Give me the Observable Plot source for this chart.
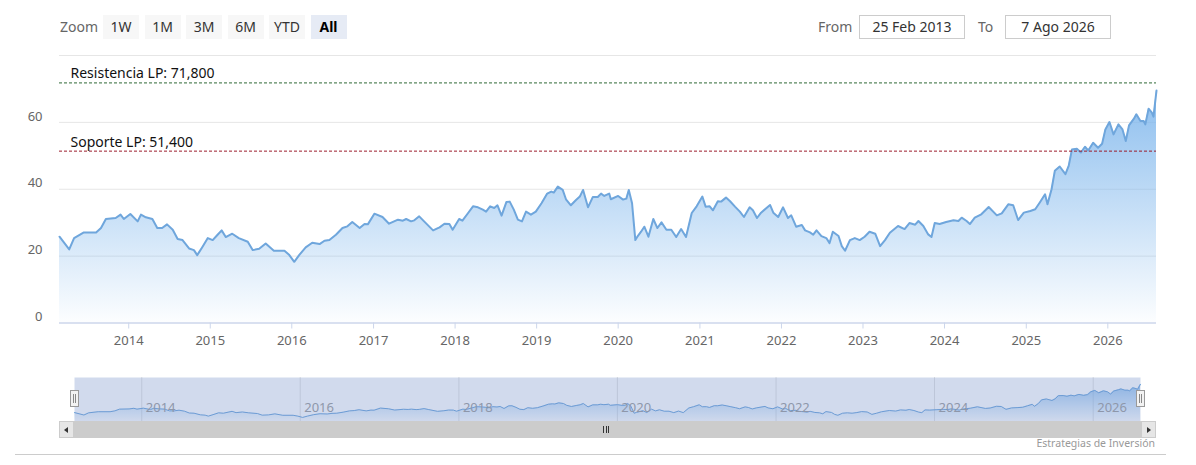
<!DOCTYPE html>
<html>
<head>
<meta charset="utf-8">
<script src="https://cdn.jsdelivr.net/npm/d3@7"></script>
<script src="https://cdn.jsdelivr.net/npm/@observablehq/plot@0.6"></script>
<style>
  html, body { margin: 0; padding: 0; background: #fff; }
  body { font-family: "Noto Sans", sans-serif; }
  #wrap { position: relative; width: 1196px; height: 465px; overflow: hidden; background: #fff; }
  .abs { position: absolute; }
  #zoomLabel { left: 60px; top: 15px; height: 24px; line-height: 24px; font-size: 14px; color: #666; }
  #btns { position: absolute; left: 103px; top: 15px; display: flex; gap: 5.5px; }
  .btn { width: 36px; height: 24px; line-height: 24px; text-align: center; font-size: 14px; color: #333; background: #f7f7f7; }
  .btn.sel { background: #e6ebf5; color: #000; font-weight: bold; }
  .lbl { top: 15px; height: 24px; line-height: 24px; font-size: 14px; color: #666; }
  .box { top: 15px; height: 24px; line-height: 22px; box-sizing: border-box; border: 1px solid #ccc; text-align: center; font-size: 14px; color: #333; width: 106px; }
  .sbtn { top: 421px; width: 15px; height: 17px; box-sizing: border-box; background: #e6e6e6; border: 1px solid #ccc; }
  .tri { position: absolute; top: 5px; width: 0; height: 0; border-top: 3px solid transparent; border-bottom: 3px solid transparent; }
  .handle { top: 390px; width: 9px; height: 17px; box-sizing: border-box; background: #f2f2f2; border: 1px solid #999; }
  .handle i { position: absolute; top: 3px; width: 1px; height: 9px; background: #888; }
</style>
</head>
<body>
<div id="wrap">
  <div id="zoomLabel" class="abs">Zoom</div>
  <div id="btns"></div>
  <div id="fromLbl" class="abs lbl" style="left:818px;">From</div>
  <div id="fromBox" class="abs box" style="left:859px;"></div>
  <div id="toLbl" class="abs lbl" style="left:978px;">To</div>
  <div id="toBox" class="abs box" style="left:1005px;"></div>
  <div id="main" class="abs" style="left:0;top:40px;"></div>
  <div id="nav" class="abs" style="left:0;top:377px;"></div>
  <div class="abs" style="left:59px;top:421px;width:1097px;height:17px;background:#cccccc;"></div>
  <div class="abs sbtn" style="left:59px;"><div class="tri" style="left:4px;border-right:4px solid #333;"></div></div>
  <div class="abs sbtn" style="left:1141px;"><div class="tri" style="left:5px;border-left:4px solid #333;"></div></div>
  <div class="abs" style="left:603px;top:426px;width:1px;height:7px;background:#333;"></div>
  <div class="abs" style="left:605.5px;top:426px;width:1px;height:7px;background:#333;"></div>
  <div class="abs" style="left:608px;top:426px;width:1px;height:7px;background:#333;"></div>
  <div class="abs handle" style="left:70px;"><i style="left:2px"></i><i style="left:4px"></i></div>
  <div class="abs handle" style="left:1136px;"><i style="left:2px"></i><i style="left:4px"></i></div>
  <div id="credit" class="abs" style="right:41px;top:436px;font-size:10.5px;color:#999;"></div>
  <div class="abs" style="left:15px;top:454px;width:1151px;height:1px;background:#ccc;"></div>
</div>
<script>
// ---- data ----
const zoomButtons = ["1W", "1M", "3M", "6M", "YTD", "All"];
const selectedButton = "All";
const rangeFrom = "25 Feb 2013";
const rangeTo = "7 Ago 2026";
const creditText = "Estrategias de Inversión";

// decimal years of sampled points
const years = [
  2013.151, 2013.27, 2013.33, 2013.45, 2013.60, 2013.66, 2013.72, 2013.84, 2013.90, 2013.94,
  2014.02, 2014.11, 2014.15, 2014.21, 2014.29, 2014.35, 2014.41, 2014.47, 2014.54, 2014.60,
  2014.66, 2014.74, 2014.80, 2014.84, 2014.90, 2014.97, 2015.03, 2015.09, 2015.14, 2015.19,
  2015.27, 2015.35, 2015.46, 2015.52, 2015.60, 2015.68, 2015.78, 2015.91, 2015.97, 2016.03,
  2016.09, 2016.17, 2016.25, 2016.34, 2016.40, 2016.46, 2016.54, 2016.62, 2016.68, 2016.74,
  2016.83, 2016.89, 2016.93, 2017.01, 2017.11, 2017.19, 2017.30, 2017.36, 2017.40, 2017.46,
  2017.50, 2017.56, 2017.62, 2017.73, 2017.81, 2017.87, 2017.93, 2017.97, 2018.05, 2018.09,
  2018.16, 2018.22, 2018.28, 2018.34, 2018.38, 2018.43, 2018.48, 2018.52, 2018.57, 2018.63,
  2018.67, 2018.72, 2018.77, 2018.82, 2018.87, 2018.93, 2018.99, 2019.06, 2019.13, 2019.18,
  2019.21, 2019.26, 2019.32, 2019.36, 2019.42, 2019.48, 2019.53, 2019.57, 2019.63, 2019.69,
  2019.75, 2019.79, 2019.83, 2019.89, 2019.91, 2020.00, 2020.06, 2020.10, 2020.13, 2020.17,
  2020.21, 2020.24, 2020.28, 2020.32, 2020.37, 2020.43, 2020.48, 2020.53, 2020.59, 2020.65,
  2020.71, 2020.77, 2020.83, 2020.90, 2020.96, 2021.03, 2021.07, 2021.12, 2021.16, 2021.22,
  2021.26, 2021.32, 2021.37, 2021.43, 2021.49, 2021.54, 2021.61, 2021.65, 2021.70, 2021.75,
  2021.86, 2021.90, 2021.96, 2022.02, 2022.08, 2022.12, 2022.18, 2022.25, 2022.29, 2022.35,
  2022.39, 2022.43, 2022.49, 2022.55, 2022.59, 2022.63, 2022.70, 2022.74, 2022.78, 2022.84,
  2022.90, 2022.96, 2023.02, 2023.08, 2023.15, 2023.21, 2023.27, 2023.33, 2023.43, 2023.51,
  2023.57, 2023.64, 2023.68, 2023.74, 2023.80, 2023.84, 2023.88, 2023.94, 2024.02, 2024.11,
  2024.17, 2024.21, 2024.27, 2024.31, 2024.37, 2024.45, 2024.54, 2024.64, 2024.70, 2024.78,
  2024.84, 2024.90, 2024.97, 2025.05, 2025.11, 2025.17, 2025.23, 2025.26, 2025.31, 2025.35,
  2025.41, 2025.48, 2025.52, 2025.56, 2025.62, 2025.67, 2025.72, 2025.76, 2025.82, 2025.88,
  2025.93, 2025.97, 2026.02, 2026.07, 2026.13, 2026.18, 2026.22, 2026.26, 2026.32, 2026.35,
  2026.40, 2026.44, 2026.46, 2026.50, 2026.54, 2026.56, 2026.597
];
const prices = [
  25.8, 22.0, 25.4, 27.1, 27.1, 28.4, 31.1, 31.4, 32.4, 31.1,
  32.6, 30.4, 32.4, 31.6, 31.1, 28.4, 28.4, 29.5, 27.9, 25.1,
  24.8, 22.3, 21.8, 20.3, 22.6, 25.4, 24.8, 26.4, 27.7, 25.7,
  26.7, 25.4, 24.3, 21.8, 22.2, 23.8, 21.6, 21.6, 20.3, 18.3,
  20.3, 22.6, 24.0, 23.6, 24.6, 24.8, 26.4, 28.4, 28.9, 30.2,
  28.4, 29.6, 29.5, 32.7, 31.7, 29.7, 30.9, 30.6, 31.1, 30.4,
  30.7, 31.9, 30.4, 27.7, 28.6, 29.7, 29.6, 27.9, 31.1, 30.6,
  32.9, 34.9, 34.6, 33.9, 33.3, 34.9, 34.4, 35.2, 32.1, 36.2,
  36.3, 33.9, 30.9, 30.4, 33.3, 32.4, 33.3, 35.8, 38.7, 39.3,
  39.0, 40.8, 39.8, 37.0, 35.2, 36.7, 37.8, 39.8, 34.6, 37.7,
  37.7, 38.7, 38.0, 38.7, 37.0, 38.0, 36.9, 37.2, 39.8, 35.8,
  24.8, 26.0, 27.3, 28.8, 25.8, 31.1, 28.4, 30.1, 27.9, 27.9,
  25.7, 28.1, 25.7, 32.9, 34.9, 37.8, 34.8, 34.9, 33.7, 36.4,
  36.3, 37.5, 36.4, 34.8, 33.3, 31.7, 34.6, 33.7, 31.4, 33.0,
  35.3, 33.0, 31.7, 34.6, 31.4, 32.2, 28.8, 29.3, 27.7, 27.1,
  26.4, 27.7, 26.0, 25.4, 23.9, 27.3, 26.0, 23.0, 21.6, 24.8,
  25.4, 24.8, 25.8, 27.3, 26.7, 23.0, 24.8, 27.0, 29.0, 28.1,
  29.9, 29.4, 30.5, 29.0, 26.5, 25.7, 29.9, 29.6, 30.2, 30.7,
  30.5, 31.5, 30.5, 29.6, 31.5, 32.5, 34.7, 32.2, 32.8, 35.5,
  35.2, 30.8, 33.0, 33.5, 34.0, 36.2, 38.5, 35.5, 40.0, 45.5,
  46.8, 44.5, 47.0, 51.9, 52.1, 51.0, 52.7, 51.6, 53.9, 52.4,
  53.6, 57.9, 60.1, 56.4, 59.4, 57.9, 54.4, 59.1, 61.1, 62.4,
  60.4, 60.4, 59.4, 64.1, 62.9, 61.7, 69.5
];

const yTicks = [0, 20, 40, 60];
const yGrid = [20, 40, 60, 80];
const xTickLabels = ["2014","2015","2016","2017","2018","2019","2020","2021","2022","2023","2024","2025","2026"];
const navTickLabels = ["2014","2016","2018","2020","2022","2024","2026"];

const levelLabels = ["Resistencia LP: 71,800", "Soporte LP: 51,400"];
const levelValues = [71.8, 51.4];

// ---- helpers ----
function decYear(t) {
  const y = Math.floor(t);
  const a = Date.UTC(y, 0, 1), b = Date.UTC(y + 1, 0, 1);
  return new Date(a + (t - y) * (b - a));
}
const data = years.map((t, i) => ({date: decYear(t), price: prices[i]}));
const xDomain = [data[0].date, data[data.length - 1].date];
const xTicks = xTickLabels.map(s => new Date(Date.UTC(+s, 0, 1)));
const navTicks = navTickLabels.map(s => new Date(Date.UTC(+s, 0, 1)));
const levels = levelLabels.map((l, i) => ({label: l, value: levelValues[i]}));

// ---- HTML controls ----
const btns = document.getElementById("btns");
zoomButtons.forEach(b => {
  const d = document.createElement("div");
  d.className = "btn" + (b === selectedButton ? " sel" : "");
  d.textContent = b;
  btns.appendChild(d);
});
document.getElementById("fromBox").textContent = rangeFrom;
document.getElementById("toBox").textContent = rangeTo;
document.getElementById("credit").textContent = creditText;

const font = '"Noto Sans", sans-serif';
const lineColor = "#6fa6dc";

function addGradient(svg, id, topOpacity) {
  const defs = d3.select(svg).insert("defs", ":first-child");
  const g = defs.append("linearGradient").attr("id", id)
    .attr("x1", 0).attr("y1", 0).attr("x2", 0).attr("y2", 1);
  g.append("stop").attr("offset", 0).attr("stop-color", "#7cb5ec").attr("stop-opacity", topOpacity);
  g.append("stop").attr("offset", 1).attr("stop-color", "#7cb5ec").attr("stop-opacity", 0.02);
}

// ---- main chart ----
const main = Plot.plot({
  width: 1196,
  height: 316,
  marginTop: 15,
  marginBottom: 33.5,
  marginLeft: 59,
  marginRight: 40,
  style: {fontFamily: font, fontSize: "13px", background: "transparent", overflow: "visible"},
  x: {type: "utc", domain: xDomain},
  y: {domain: [0, 80]},
  marks: [
    Plot.ruleY(yGrid, {stroke: "#e6e6e6", strokeWidth: 1}),
    Plot.areaY(data, {x: "date", y: "price", fill: "url(#mainGrad)"}),
    Plot.lineY(data, {x: "date", y: "price", stroke: lineColor, strokeWidth: 2}),
    Plot.ruleY([0], {stroke: "#ccd6eb", strokeWidth: 1.5}),
    Plot.axisX({ticks: xTicks, tickFormat: "%Y", tickSize: 6, tickPadding: 7, stroke: "#ccd6eb", fill: "#666", label: null, fontSize: 13}),
    Plot.axisY({ticks: yTicks, tickSize: 0, tickPadding: 17, dy: -6, fill: "#666", label: null, fontSize: 13}),
    Plot.ruleY([levels[0]], {y: "value", stroke: "#2f6a37", strokeWidth: 1, strokeDasharray: "3,2"}),
    Plot.ruleY([levels[1]], {y: "value", stroke: "#9b1c2c", strokeWidth: 1, strokeDasharray: "3,2"}),
    Plot.text(levels, {x: () => xDomain[0], y: "value", text: "label", textAnchor: "start", dx: 11, dy: -9, fill: "#111", fontSize: 14})
  ]
});
addGradient(main, "mainGrad", 0.88);
document.getElementById("main").appendChild(main);

// ---- navigator ----
const nav = Plot.plot({
  width: 1196,
  height: 44,
  marginTop: 0,
  marginBottom: 0,
  marginLeft: 74,
  marginRight: 56,
  style: {fontFamily: font, fontSize: "13px", background: "transparent", overflow: "visible"},
  x: {type: "utc", domain: xDomain, axis: null},
  y: {domain: [12, 80], axis: null},
  marks: [
    Plot.ruleX(navTicks, {stroke: "#e3e3e3", strokeWidth: 1}),
    Plot.areaY(data, {x: "date", y1: 12, y2: "price", fill: "url(#navGrad)"}),
    Plot.lineY(data, {x: "date", y: "price", stroke: lineColor, strokeWidth: 1}),
    Plot.text(navTicks, {x: d => d, text: (d, i) => navTickLabels[i], frameAnchor: "bottom", dy: -9.5, dx: 4, textAnchor: "start", fill: "#a0a0a0", fontSize: 13}),
    Plot.frame({fill: "rgba(102,133,194,0.3)", stroke: null})
  ]
});
addGradient(nav, "navGrad", 0.75);
document.getElementById("nav").appendChild(nav);
</script>
</body>
</html>
